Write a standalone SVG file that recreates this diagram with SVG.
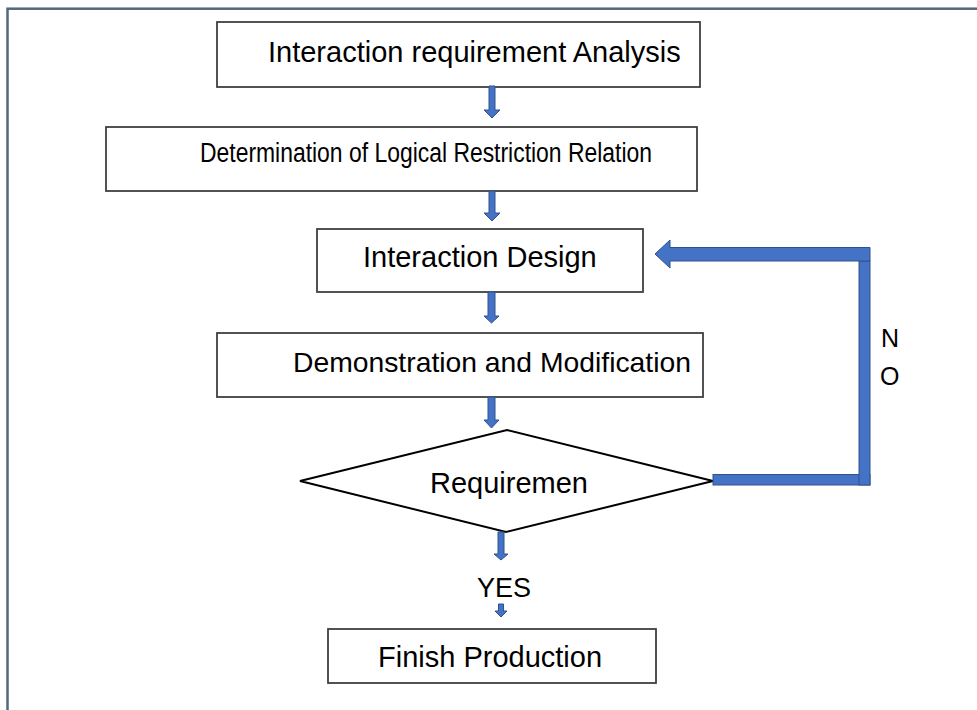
<svg xmlns="http://www.w3.org/2000/svg" width="977" height="710" viewBox="0 0 977 710">
  <defs>
    <style>
      .frame { fill: none; stroke: #56667f; stroke-width: 2.5; }
      .box { fill: #ffffff; stroke: #404040; stroke-width: 1.8; }
      .diamond { fill: #ffffff; stroke: #000000; stroke-width: 2; }
      .lbl { font-family: "Liberation Sans", Arial, sans-serif; font-size: 29px; fill: #000000; }
      .blk { fill: #4472c4; stroke: #2f528f; stroke-width: 1; }
    </style>
  </defs>
  <rect x="0" y="0" width="977" height="710" fill="#ffffff"/>
  <!-- outer frame, continues past the right and bottom edges -->
  <rect class="frame" x="7.5" y="8.7" width="1000" height="1000"/>

  <g id="node-analysis">
    <rect class="box" x="217" y="22" width="483" height="65"/>
    <text class="lbl" x="268" y="62">Interaction requirement Analysis</text>
  </g>
  <g id="node-restriction">
    <rect class="box" x="106" y="127" width="591" height="64"/>
    <text class="lbl" x="200" y="162" style="font-size:27px" textLength="452" lengthAdjust="spacingAndGlyphs">Determination of Logical Restriction Relation</text>
  </g>
  <g id="node-design">
    <rect class="box" x="317" y="229" width="326" height="63"/>
    <text class="lbl" x="363" y="267">Interaction Design</text>
  </g>
  <g id="node-demo">
    <rect class="box" x="217" y="333" width="486" height="64"/>
    <text class="lbl" x="293" y="372" style="font-size:28.3px">Demonstration and Modification</text>
  </g>
  <g id="node-check">
    <polygon class="diamond" points="300,481 507,430 713,481 506,532"/>
    <text class="lbl" x="430" y="493">Requiremen</text>
  </g>
  <g id="node-finish">
    <rect class="box" x="328" y="629" width="328" height="54"/>
    <text class="lbl" x="378" y="667">Finish Production</text>
  </g>

  <g id="connectors">
    <!-- short down arrows between steps -->
    <polygon class="blk" points="489,86 495,86 495,110 500,110 492,118 484,110 489,110"/>
    <polygon class="blk" points="489,191 495,191 495,213 500,213 492,221 484,213 489,213"/>
    <polygon class="blk" points="488,292 495,292 495,316 499,316 491.5,323 484,316 488,316"/>
    <polygon class="blk" points="488,397 495,397 495,420 499,420 491.5,428 484,420 488,420"/>
    <polygon class="blk" points="498,532 504,532 504,554 508,554 501,560 494,554 498,554"/>
    <polygon class="blk" points="498.5,604 503.5,604 503.5,611 507,611 501,617 495,611 498.5,611"/>
    <!-- NO branch: back to Interaction Design -->
    <rect class="blk" x="713" y="474.5" width="157" height="10.5"/>
    <rect class="blk" x="859" y="261" width="11" height="224"/>
    <polygon class="blk" points="655,254 670,240 670,247.5 870,247.5 870,261 670,261 670,268"/>
    <text class="lbl" x="881" y="347" style="font-size:25px">N</text>
    <text class="lbl" x="880" y="385" style="font-size:25px">O</text>
    <text class="lbl" x="477" y="597" style="font-size:27px">YES</text>
  </g>
</svg>
